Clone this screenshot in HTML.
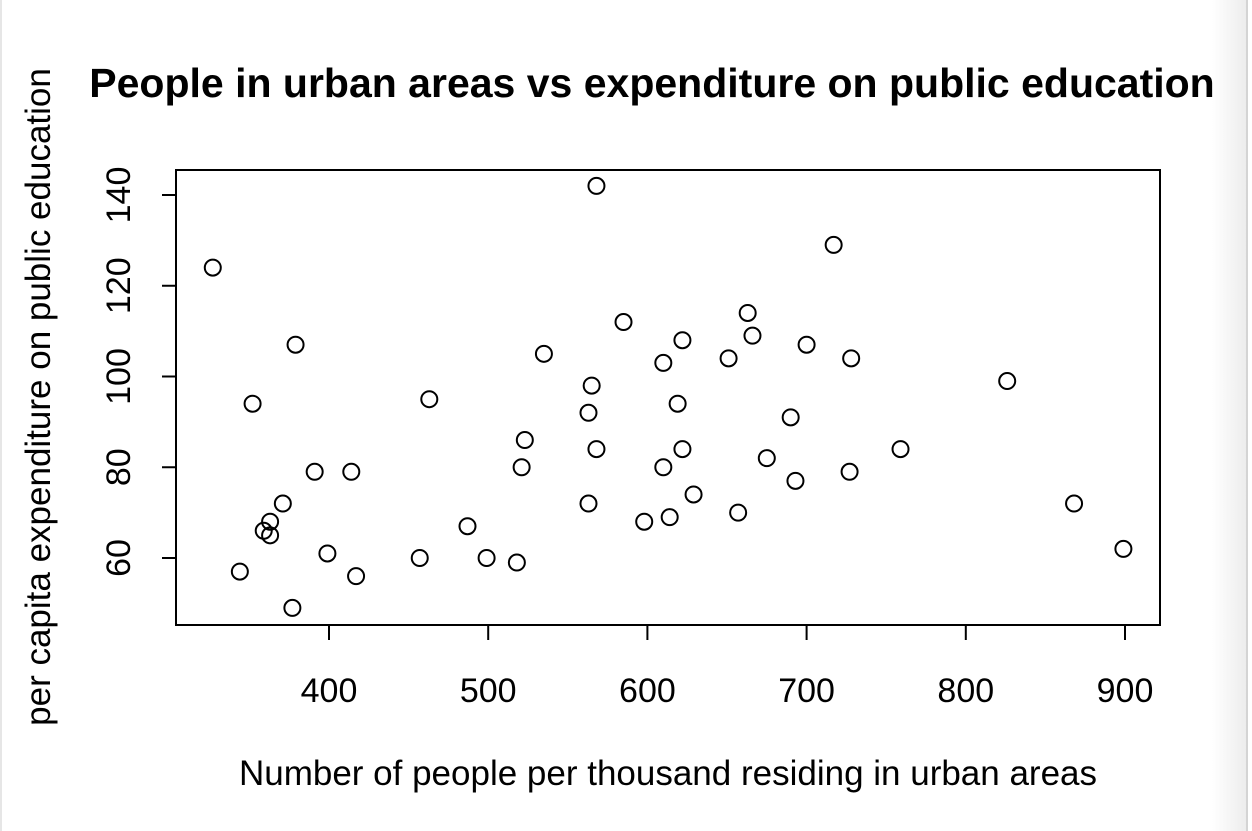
<!DOCTYPE html>
<html><head><meta charset="utf-8"><style>
html,body{margin:0;padding:0;background:#fff;}
#wrap{position:relative;width:1252px;height:831px;overflow:hidden;background:#fff;}
#edge{position:absolute;left:1212px;top:0;width:35px;height:831px;background:linear-gradient(to right,#fff,#ececec);}
#edgeline{position:absolute;left:1246px;top:0;width:2px;height:831px;background:#d4d4d4;}
#leftline{position:absolute;left:0;top:0;width:2px;height:831px;background:#e6e6e6;}
text{font-family:"Liberation Sans",Arial,sans-serif;fill:#000;}
</style></head><body>
<div id="wrap">
<div id="edge"></div>
<div id="edgeline"></div>
<div id="leftline"></div>
<svg id="chart" width="1252" height="831" style="position:absolute;left:0;top:0">
<text x="652" y="97" text-anchor="middle" font-size="41" font-weight="bold">People in urban areas vs expenditure on public education</text>
<rect x="176" y="170" width="984" height="455" fill="none" stroke="#000" stroke-width="2"/>
<text x="668" y="785" text-anchor="middle" font-size="35">Number of people per thousand residing in urban areas</text>
<text transform="translate(50,397) rotate(-90)" text-anchor="middle" font-size="35">per capita expenditure on public education</text>
<g id="xaxis"></g>
<g id="yaxis"></g>
<g id="points"></g>
</svg>
</div>
<script>
const xVals=[327,568,717,352,379,344,359,363,363,371,391,414,399,417,377,457,463,487,499,518,521,523,535,563,563,565,568,585,598,610,610,614,619,622,622,629,651,657,663,666,675,690,693,700,727,728,759,826,868,899];
const yVals=[124,142,129,94,107,57,66,68,65,72,79,79,61,56,49,60,95,67,60,59,80,86,105,72,92,98,84,112,68,103,80,69,94,108,84,74,104,70,114,109,82,91,77,107,79,104,84,99,72,62];
const xTicks=[400,500,600,700,800,900];
const yTicks=[60,80,100,120,140];
const NS="http://www.w3.org/2000/svg";
function sx(v){return 329+(v-400)*1.592;}
function sy(v){return 558-(v-60)*4.5375;}
function mk(tag,attrs){const e=document.createElementNS(NS,tag);for(const k in attrs)e.setAttribute(k,attrs[k]);return e;}
const xa=document.getElementById('xaxis');
xa.appendChild(mk('line',{x1:sx(400),x2:sx(900),y1:625,y2:625,stroke:'#000','stroke-width':2}));
xTicks.forEach(t=>{
  const l=mk('line',{x1:sx(t),x2:sx(t),y1:625,y2:640,stroke:'#000','stroke-width':2});
  
  
  xa.appendChild(l);
  const tx=mk('text',{x:sx(t),y:702,'text-anchor':'middle','font-size':34});
  tx.textContent=t;
  
  
  xa.appendChild(tx);
});
const ya=document.getElementById('yaxis');
yTicks.forEach(t=>{
  const l=mk('line',{x1:162,x2:176,y1:sy(t),y2:sy(t),stroke:'#000','stroke-width':2});
  
  
  ya.appendChild(l);
  const tx=mk('text',{transform:'translate(130,'+sy(t)+') rotate(-90)','text-anchor':'middle','font-size':34});
  tx.textContent=t;
  
  
  ya.appendChild(tx);
});
const pg=document.getElementById('points');
xVals.forEach((v,i)=>{
  const c=mk('circle',{cx:sx(v),cy:sy(yVals[i]),r:8,fill:'none',stroke:'#000','stroke-width':2});
  
  
  pg.appendChild(c);
});
</script>
</body></html>
